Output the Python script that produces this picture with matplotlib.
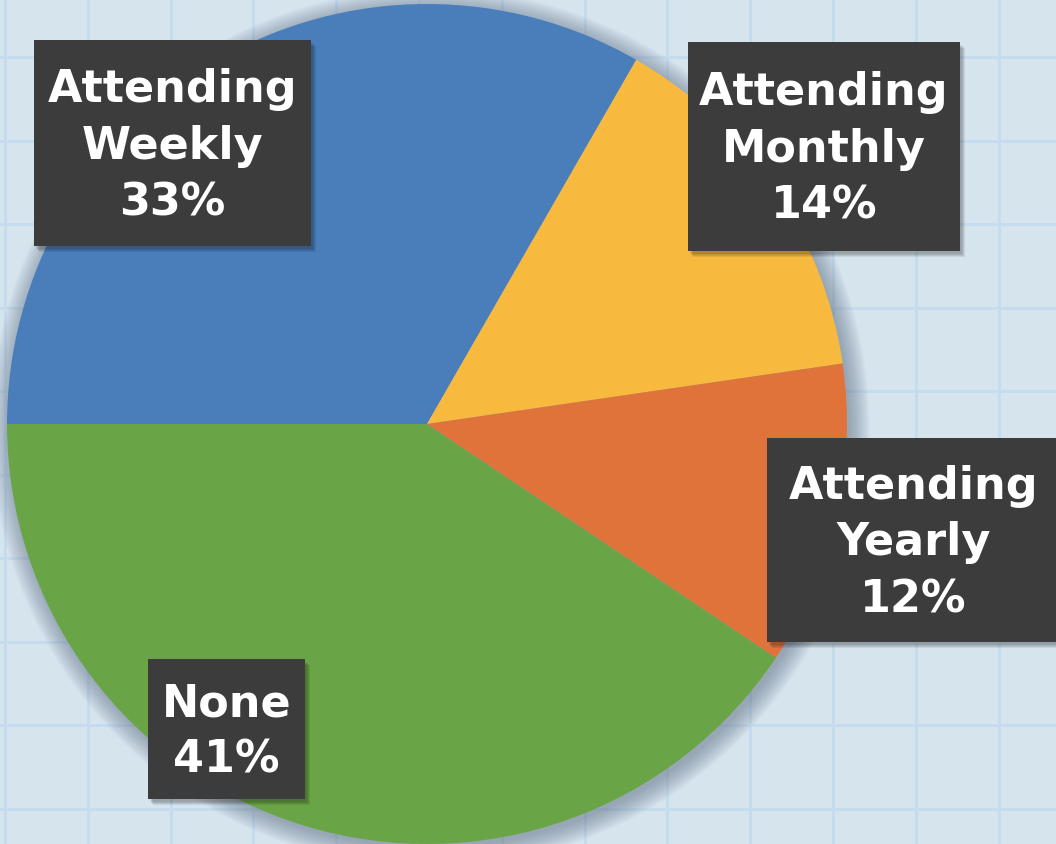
import numpy as np
import matplotlib.pyplot as plt
from matplotlib.patches import Rectangle, Circle

# church attendance shares (%), clockwise from 9 o'clock
categories = ["Attending\nWeekly", "Attending\nMonthly", "Attending\nYearly", "None"]
shares = [33.3, 14.4, 11.7, 40.6]
colors = ["#4A7EBB", "#F7BA3E", "#E07339", "#69A547"]

BG, GRID, BOX = "#D6E4EE", "#C4DCEF", "#3C3C3C"

W, H = 1056, 845
fig = plt.figure(figsize=(W / 100, H / 100), dpi=100, facecolor=BG)
ax = fig.add_axes([0, 0, 1, 1])
ax.set_facecolor(BG)

# graph-paper background
for x in np.arange(5, W, 82.8):
    ax.axvline(x, color=GRID, lw=2, zorder=0)
for y in np.arange(H - 58, 0, -83.5):
    ax.axhline(y, color=GRID, lw=2, zorder=0)

cx, cy, r = 427, H - 425, 420

# soft shadow round the pie
for k in range(16):
    ax.add_patch(Circle((cx + 3, cy - 4), r + 1.3 * k, color="#55657a",
                        alpha=0.035, lw=0, zorder=1))

ax.pie(shares, colors=colors, startangle=180, counterclock=False,
       center=(cx, cy), radius=r, wedgeprops=dict(linewidth=0), frame=True)

# label boxes: (left, top, right, bottom) in pixels
boxes = [(34, 41, 311, 247), (688, 43, 960, 252), (767, 439, 1060, 643), (148, 660, 305, 800)]
for (x0, y0, x1, y1), cat, v in zip(boxes, categories, shares):
    for k in range(4):
        ax.add_patch(Rectangle((x0 + 2 + k, H - y1 - 3 - k), x1 - x0, y1 - y0, color="#000000",
                               alpha=0.08, lw=0, zorder=3))
    ax.add_patch(Rectangle((x0, H - y1), x1 - x0, y1 - y0, color=BOX, lw=0, zorder=4))
    ax.text((x0 + x1) / 2, H - (y0 + y1) / 2 - 2, f"{cat}\n{v:.0f}%", ha="center", va="center",
            color="white", fontsize=32, fontweight="bold", family="DejaVu Sans",
            linespacing=1.4, zorder=5)

ax.set_xlim(0, W)
ax.set_ylim(0, H)
ax.set_aspect("equal")
ax.axis("off")

fig.savefig("out.png", dpi=100, facecolor=BG)
